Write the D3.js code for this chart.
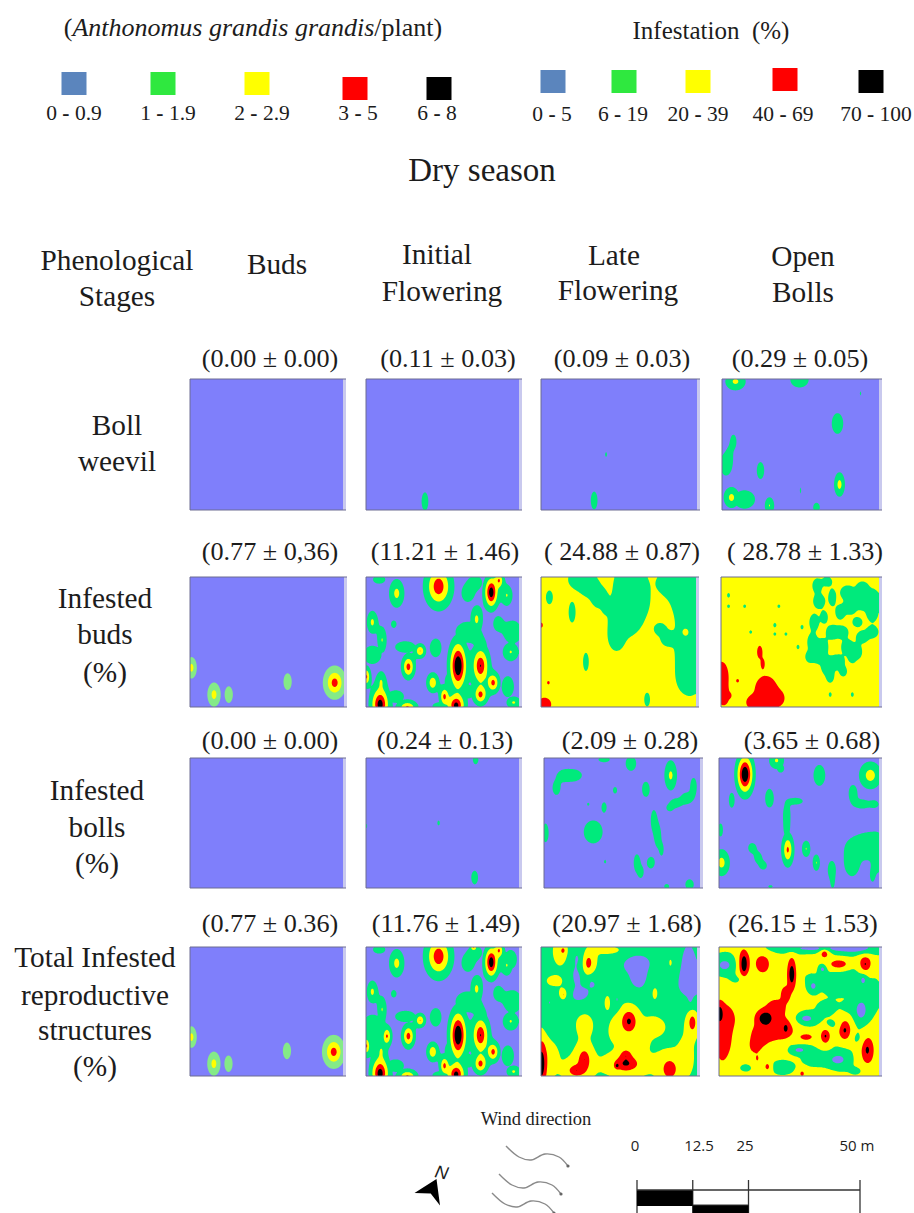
<!DOCTYPE html>
<html lang="en">
<head>
<meta charset="UTF-8">
<title>Dry season infestation maps</title>
<script src="https://d3js.org/d3.v7.min.js"></script>
<style>
  html, body { margin: 0; padding: 0; background: #fff; }
  svg { display: block; }
  text { font-family: "Liberation Serif", serif; fill: #1c1c1c; }
</style>
</head>
<body>
<svg id="chart" width="914" height="1213"></svg>
<script>
// legends
const legendColors = ["#5b85bd", "#2fe83f", "#ffff00", "#ff0000", "#000000"];
const plantLegend = ["0 - 0.9", "1 - 1.9", "2 - 2.9", "3 - 5", "6 - 8"];
const infestLegend = ["0 - 5", "6 - 19", "20 - 39", "40 - 69", "70 - 100"];

// table headings
const statRows = [
  ["(0.00 ± 0.00)", "(0.11 ± 0.03)", "(0.09 ± 0.03)", "(0.29 ± 0.05)"],
  ["(0.77 ± 0,36)", "(11.21 ± 1.46)", "( 24.88 ± 0.87)", "( 28.78 ± 1.33)"],
  ["(0.00 ± 0.00)", "(0.24 ± 0.13)", "(2.09 ± 0.28)", "(3.65 ± 0.68)"],
  ["(0.77 ± 0.36)", "(11.76 ± 1.49)", "(20.97 ± 1.68)", "(26.15 ± 1.53)"]
];

// map colours and contour levels
const mapColors = ["#7f7ffb", "#00ea7c", "#ffff00", "#ff0000", "#000000"];
const mapLevels = [1, 2, 3, 4];

// hot spots, in field units (0-156 across, 0-130 down):
// [x, y, spread x, spread y, height]
const budsBuds = [
  [1,91,4,8,2.5],[24,118,5,9,2.5],[39,118,4,8,1.6],[99,105,4,8,1.6],[147,106,7,10,3.6]
];
const weevilInitial = [[60,122,3,8,1.7]];
const weevilLate = [[65,75,1.2,3,1.4],[53,121,3,8,2.0]];
const weevilOpen = [
  [13,2,8,7,2.3],[77,0,8,7,1.7],[138,14,1,3,1.3],[115,44,5,9,1.7],[11,62,3,7,1.5],[7,78,2.5,8,1.4],
  [3,85,5,10,1.6],[38,91,3.5,8,1.6],[9,118,6,8,2.4],[22,120,8,7,1.9],[78,111,1,4.5,1.3],
  [117,105,4,9,2.5],[47,126,4,7,2.1],[94,128,3.5,5,1.5]
];
const budsInitial = [
  [74,9,9,14,3.9],[128,15,4.5,10,5],[136,3,3.5,6,3.2],[31,16,6,11,2.4],[144,18,5,9,2.1],[13,2,6,4,1.6],
  [112,5,6,6,1.6],[104,16,6,8,1.6],[6,45,4.5,9,2.3],[28,47,3,4,1.5],[113,42,5,11,2.3],[104,55,11,9,1.7],
  [135,46,4,6,1.6],[16,63,4,11,2.1],[6,78,8,8,1.7],[148,75,7,8,2.1],[150,55,8,10,1.7],[55,74,4,5,3.1],
  [40,70,9,5,1.7],[43,90,4.5,8,3.6],[71,71,5,8,1.7],[94,89,5.5,15,5.5],[117,89,6,13,4.1],[130,106,4.5,7,3.5],
  [117,118,5,7,3.5],[68,106,4.5,7,2.9],[14,128,6,11,4.8],[15,105,4.5,9,2.0],[42,131,7,5,3.3],[80,120,3.5,7,3.4],
  [86,105,5,8,1.7],[92,129,6,8,4.6],[0,100,3,7,3.3],[151,126,6,5,2.2],[145,110,6,10,1.6],[118,72,5,8,1.6],
  [30,120,8,6,1.6],[75,130,7,4,1.6],[105,115,6,10,1.3]
];
const budsLate = [
  [38,2,8,7,-1.2],[48,8,7,8,-1.2],[58,20,6,8,-1.1],[65,30,3,5,-.9],[90,5,11,14,-1.3],[92,25,11,12,-1.3],
  [85,42,11,12,-1.3],[76,60,6,10,-1.2],[135,5,12,10,-1.3],[150,20,12,16,-1.4],[152,50,9,14,-1.4],
  [150,75,9,16,-1.4],[150,100,9,13,-1.3],[120,52,5,5,-1],[128,62,6,6,-1],[8,20,3,6,-1],[31,35,3,9,-1],
  [45,85,2.5,8,-1],[107,123,2.5,6,-1],[147,55,3,4,1.1],[3,128,5,5,1.2],[7,106,1.5,2,.8],[0,48,1.5,3,.8]
];
const budsOpen = [
  [95,8,4,6,-1],[105,4,4,4,-1],[97,24,5,6,-1],[110,20,3,7,-1],[92,45,4,7,-1],[102,40,3,5,-1],[90,65,4,7,-1],
  [100,70,5,7,-1],[110,55,5,6,-1],[118,35,4,6,-1],[125,15,6,6,-1],[140,10,5,5,-1],[150,20,6,7,-1],
  [150,35,5,8,-1],[150,55,5,5,-1],[135,45,4,4,-1],[125,70,5,6,-1],[115,85,6,6,-1],[105,90,5,7,-1],
  [108,100,3,5,-1],[130,80,3,5,-1],[121,95,3,4,-1],[88,80,4,5,-1],[96,80,4,5,-1],[120,55,5,5,-1],[128,30,5,6,-1],
  [140,25,6,6,-1],[140,60,5,5,-1],[135,75,4,6,-1],[7,18,1.2,2,-1],[7,29,1.2,1.5,-1],[23,29,1.2,1.5,-1],
  [57,29,1.2,1.5,-1],[53,48,1.3,2,-1],[29,55,1.2,1.5,-1],[53,57,1.2,1.5,-1],[64,57,1.2,1.5,-1],[80,50,1.2,2,-1],
  [76,70,1.2,2,-1],[130,118,1.2,2,-1],[108,118,1.2,2,-1],[33,126,7,6,1],[44,112,9,11,1],[54,122,7,7,1],
  [38,75,2.5,6,.9],[41,87,2,5,.8],[0,100,6,13,1],[2,120,5,8,.9],[16,104,1.5,2,.8],[8,119,1.5,2,.8]
];
const bollsLate = [
  [30,17,7,5,1.6],[20,17,6,5,1.5],[12,30,4,7,1.5],[60,1,6,3,1.5],[87,5,5,7,1.6],[127,17,5,12,2.3],
  [102,31,4,8,1.5],[71,32,2.5,4,1.4],[44,46,1.5,2,1.3],[60,49,2.5,5,1.5],[49,74,9,11,1.6],[1,75,3,9,1.6],
  [61,104,1.5,2.5,1.3],[110,62,3,10,1.5],[114,78,3,10,1.6],[118,92,2,6,1.4],[150,28,3,8,1.6],[143,40,5,5,1.6],
  [132,45,5,4,1.6],[126,50,3,3,1.5],[93,105,3,8,1.6],[97,115,2.5,5,1.5],[107,105,4,6,1.5],[123,129,3,3,1.4],
  [146,127,4,5,1.6]
];
const bollsInitial = [[112,1,3,5,1.5],[0,68,1,3,1.3],[74,65,1.5,3,1.4],[111,120,3,6,1.7]];
const bollsOpen = [
  [25,16,5,12,5.5],[56,2,6,7,2.2],[60,10,5,6,1.3],[98,17,5.5,10,1.6],[148,17,8,10,2.6],[131,35,4,8,1.6],
  [140,46,6,4,1.6],[152,46,4,3.5,1.5],[12,42,3,8,1.5],[49,40,4,9,1.6],[75,43,7,3.5,1.5],[66,55,3,8,1.5],
  [67,92,4,11,3.3],[66,70,3,10,1.5],[85,91,3.5,7,2.1],[95,105,3,7,2.1],[2,105,6,10,2.5],[32,90,4,5,1.5],
  [38,100,3.5,5,1.5],[43,108,3.5,4,1.5],[1,72,2.5,7,1.5],[110,112,3.5,8,1.6],[111,125,2,7,1.3],[130,105,6,11,1.8],
  [136,90,8,7,1.8],[148,84,9,7,1.8],[156,98,5,13,1.8],[145,92,5,5,1.7],[150,118,2.5,7,1.3],[50,129,3,2,1.3]
];
const totalInitialExtra = [[21,90,3.5,7,3.3],[110,0,3,3,3.2],[8,100,6,12,1.6],[148,12,6,9,1.6]];
const totalLate = [
  [37,12,6,15,-1],[36,30,5,8,-.9],[38,48,10,8,-1],[50,35,7,8,-1],[95,15,12,9,-1],[98,30,7,10,-1],
  [148,15,5,14,-1],[150,35,11,16,-1.1],[150,55,5,6,-.8],[76,53,2,5,-.8],[8,56,2,4,-.7],[25,73,1.5,3,-.7],
  [20,4,6,11,1.3],[22,3,2,3,1.7],[47,16,5,10,2.3],[70,3,16,5,.9],[130,16,4,10,.8],[14,34,9,6,.9],[22,46,5,6,1],
  [22,48,2,3,1.7],[114,46,4,9,.8],[66,55,4,10,.8],[43,78,9,14,.9],[88,75,6,9,2.8],[113,80,12,10,.9],
  [76,85,8,12,.9],[152,76,3.5,8,2.3],[150,76,6,16,.8],[0,118,4,18,3.4],[8,110,9,20,.9],[43,114,5,9,2.4],
  [35,125,7,5,2.4],[40,118,14,12,.8],[85,118,10,6,2.5],[85,110,5,6,2.2],[76,120,1.5,2,3],[85,120,20,10,.9],
  [129,124,6,8,2.4],[128,118,15,14,.8],[145,110,8,20,.8],[100,95,8,12,.8],[10,80,8,8,-.6]
];
const totalOpen = [
  [24,17,3,9,3],[42,17,5,7,1.6],[71,27,2.5,9,3],[65,47,4,7,1.3],[45,72,5,5,3.2],[55,62,8,8,1.3],
  [65,82,7,11,1.3],[50,85,10,8,1.3],[40,90,7,9,1.2],[65,82,1.5,3,2.5],[5,80,11,20,1.3],[3,100,5,14,1.1],
  [0,67,2.5,6,3],[35,100,5,7,1.1],[37,113,2,4,.9],[103,5,3.5,4,2],[117,17,6,3,2],[143,17,4,6,2.1],
  [85,91,4,2,1.8],[104,90,3,5,2],[123,84,4,7,2.1],[145,104,4,9,2.1],[47,121,2,3,1.5],[81,128,2,2.5,1.3],
  [5,18,7,6,-1.9],[20,32,10,5,-.8],[100,1,30,3,-1.9],[135,1,15,4,-1.9],[90,25,8,10,-.8],
  [115,35,12,10,-.8],[135,30,12,9,-.8],[148,50,7,12,-.8],[105,62,8,6,-.7],[128,62,8,6,-.7],[141,33,2.5,4,-1.9],
  [101,22,2.5,3,-1.9],[92,39,3,4,-1.9],[139,64,5,9,-2],[85,72,7,4,-1.9],[100,112,12,6,-.8],[120,110,8,10,-.8],
  [78,104,6,3,-1.9],[116,114,6,4,-1.9],[25,122,6,4,-.7],[18,90,3,6,-.7],[62,121,9,6,-.8],[90,20,5,7,.8],
  [110,78,7,4,-.7],[136,92,5,6,-.7],[90,110,6,6,-.7],[135,125,6,4,-.6],[70,100,5,5,-.6]
];

const mapSpots = [
  [[], weevilInitial, weevilLate, weevilOpen],
  [budsBuds, budsInitial, budsLate, budsOpen],
  [[], bollsInitial, bollsLate, bollsOpen],
  [budsBuds, budsInitial.concat(totalInitialExtra), totalLate, totalOpen]
];
// background height, lowest and highest height of each map
const mapBase = [[0, 0, 0, 0], [0, 0, 2.5, 2.5], [0, 0, 0, 0], [0, 0, 1.5, 2.3]];
const mapFloor = [[0, 0, 0, 0], [0, 0, 1.2, 1.2], [0, 0, 0, 0], [0, 0, 0, 0]];
const mapCeil = [[9, 9, 9, 9], [9, 9, 3.9, 3.9], [9, 9, 9, 9], [9, 9, 9, 9]];

// scale bar
const scaleTicks = [0, 12.5, 25, 50];
const windCurve = [[0, 0], [13, 11], [25, 14], [39, 8], [53, 11], [62, 20]];

const svg = d3.select("#chart");

function label(txt, x, y, size, opts = {}) {
  return svg.append("text").attr("x", x).attr("y", y)
    .attr("font-size", size).attr("text-anchor", opts.anchor || "middle")
    .text(txt);
}

// legend labels have a heavy dash
function rangeLabel(d, x, y) {
  const [a, b] = d.split(" - ");
  label("", x, y, 21.5).attr("xml:space", "preserve").call(t => {
    t.append("tspan").text(a + " ");
    t.append("tspan").attr("font-weight", "bold").text("-");
    t.append("tspan").text(" " + b);
  });
}

// ---- legends
label("", 253, 36, 26).call(t => {
  t.append("tspan").text("(");
  t.append("tspan").attr("font-style", "italic").text("Anthonomus grandis grandis");
  t.append("tspan").text("/plant)");
});
label("Infestation  (%)", 711, 39, 25).attr("xml:space", "preserve");

const plantX = d3.scaleOrdinal().domain(plantLegend).range([74, 163, 257, 355, 439]);
const plantLab = d3.scaleOrdinal().domain(plantLegend).range([74, 168, 262, 358, 437]);
const plantTop = [72, 72, 72, 77, 77];
plantLegend.forEach((d, i) => {
  svg.append("rect").attr("x", plantX(d) - 12.5).attr("y", plantTop[i])
    .attr("width", 25).attr("height", 23).attr("fill", legendColors[i]);
  rangeLabel(d, plantLab(d), 120);
});
const infestX = d3.scaleOrdinal().domain(infestLegend).range([553, 624, 698, 785, 871]);
const infestLab = d3.scaleOrdinal().domain(infestLegend).range([552, 623, 698, 783, 876]);
const infestTop = [70, 70, 70, 68, 70];
infestLegend.forEach((d, i) => {
  svg.append("rect").attr("x", infestX(d) - 12.5).attr("y", infestTop[i])
    .attr("width", 25).attr("height", 23).attr("fill", legendColors[i]);
  rangeLabel(d, infestLab(d), 121);
});

label("Dry season", 482, 181, 33);

// ---- headings
[["Phenological", 117, 270], ["Stages", 117, 306], ["Buds", 277, 274], ["Initial", 437, 264],
 ["Flowering", 442, 301], ["Late", 614, 265], ["Flowering", 618, 300], ["Open", 803, 266], ["Bolls", 803, 302],
 ["Boll", 117, 435], ["weevil", 117, 471], ["Infested", 105, 608], ["buds", 105, 644], ["(%)", 105, 682],
 ["Infested", 97, 800], ["bolls", 97, 837], ["(%)", 97, 873], ["Total Infested", 95, 967],
 ["reproductive", 95, 1005], ["structures", 95, 1040], ["(%)", 95, 1076]
].forEach(d => label(d[0], d[1], d[2], 29.3));

const statY = [367, 560, 749, 932];
const statX = [[270, 448, 622, 800], [270, 445, 622, 805], [270, 445, 630, 812], [270, 446, 627, 803]];
statRows.forEach((row, r) => row.forEach((s, c) => label(s, statX[r][c], statY[r], 26.2).attr("xml:space", "preserve")));

// ---- maps
const gridW = 157, gridH = 131;
const colBox = [
  [[190, 346], [366, 522], [541, 700], [722, 882]],
  [[190, 347], [366, 522], [541, 699], [721, 882]],
  [[190, 346], [366, 522], [544, 703], [719, 882]],
  [[190, 346], [366, 522], [541, 700], [719, 882]]
];
const rowBox = [[379, 510], [577, 707], [758, 888], [947, 1076]];
const contours = d3.contours().size([gridW, gridH]).thresholds(mapLevels).smooth(true);

// overlapping spots join softly; green-only spots never add up to yellow
function heightField(spots, base, floor, ceil) {
  const out = new Float64Array(gridW * gridH);
  for (let j = 0; j < gridH; j++) {
    for (let i = 0; i < gridW; i++) {
      let up = 0, down = 0, green = 0;
      for (const s of spots) {
        const low = base === 0 && s[4] < 2;
        const k = low ? 1.8 : base === 0 ? 1.45 : 1.5;
        const dx = (i - s[0]) / (s[2] * k), dy = (j - s[1]) / (s[3] * k);
        const q = dx * dx + dy * dy;
        if (q > 30) continue;
        const w = Math.pow(Math.abs(s[4]) * Math.exp(-Math.pow(q, 0.7)), 2);
        if (low) green += w;
        else if (s[4] > 0) up += w;
        else down += w;
      }
      const top = Math.max(Math.min(Math.sqrt(green), 1.95), Math.sqrt(up));
      out[j * gridW + i] = Math.min(Math.max(base + top - Math.sqrt(down), floor), ceil);
    }
  }
  return out;
}

mapSpots.forEach((row, r) => row.forEach((spots, c) => {
  const [x0, x1] = colBox[r][c], [y0, y1] = rowBox[r];
  const px = d3.scaleLinear().domain([0, gridW]).range([x0, x1 - 3]);
  const py = d3.scaleLinear().domain([0, gridH]).range([y0, y1]);
  const path = d3.geoPath(d3.geoTransform({
    point(x, y) { this.stream.point(px(x), py(y)); }
  }));
  const colors = c === 0 ? ["#7f7ffb", "#84ea88", "#ffff00", "#ff0000", "#000000"] : mapColors;
  const g = svg.append("g").style("filter", "blur(0.5px)");
  g.append("rect").attr("x", x0).attr("y", y0).attr("width", x1 - x0).attr("height", y1 - y0).attr("fill", "#c9c9ee");
  g.append("rect").attr("x", x0).attr("y", y0).attr("width", x1 - x0 - 3).attr("height", y1 - y0).attr("fill", colors[0]);
  g.selectAll("path.level")
    .data(contours(heightField(spots, mapBase[r][c], mapFloor[r][c], mapCeil[r][c])))
    .join("path").attr("class", "level")
    .attr("d", path)
    .attr("fill", (d, i) => colors[i + 1]);
  g.append("path")
    .attr("d", `M${x1},${y0}H${x0}V${y1}H${x1}`)
    .attr("fill", "none").attr("stroke", "#6c6c92").attr("stroke-width", 1);
}));

// ---- wind, north arrow, scale bar
label("Wind direction", 536, 1125, 18.5).attr("xml:space", "preserve");
const windLine = d3.line().curve(d3.curveCatmullRom);
[[506, 1146], [499, 1174], [492, 1193]].forEach(o => {
  const g = svg.append("g").attr("transform", `translate(${o[0]},${o[1]})`);
  g.append("path").attr("d", windLine(windCurve)).attr("fill", "none")
    .attr("stroke", "#8a8a8a").attr("stroke-width", 1.4);
  g.append("circle").attr("cx", 62).attr("cy", 20).attr("r", 1.6).attr("fill", "#666");
});

svg.append("path").attr("d", "M414.5,1193L436.5,1179L440,1205.5L430.7,1193.5Z").attr("fill", "#000");
svg.append("text").attr("transform", "translate(434,1177) rotate(12)")
  .attr("font-size", 18).attr("font-style", "italic").style("font-family", "'Liberation Sans'").text("N");

const bar = d3.scaleLinear().domain([0, 50]).range([637, 860]);
const barLabels = ["0", "12.5", "25", "50 m"];
const barLabelX = [635, 699, 745, 857];
scaleTicks.forEach((d, i) => {
  svg.append("text").attr("x", barLabelX[i]).attr("y", 1151).attr("text-anchor", "middle")
    .attr("font-size", 15).style("font-family", "'Open Sans'").text(barLabels[i]);
  svg.append("line").attr("x1", bar(d)).attr("x2", bar(d)).attr("y1", 1180).attr("y2", 1213)
    .attr("stroke", "#333").attr("stroke-width", 1.3);
});
svg.append("rect").attr("x", bar(0)).attr("y", 1190).attr("width", bar(12.5) - bar(0)).attr("height", 16).attr("fill", "#000");
svg.append("rect").attr("x", bar(12.5)).attr("y", 1205).attr("width", bar(25) - bar(12.5)).attr("height", 8).attr("fill", "#000");
svg.append("line").attr("x1", bar(0)).attr("x2", bar(50)).attr("y1", 1190).attr("y2", 1190).attr("stroke", "#333").attr("stroke-width", 1.3);
svg.append("line").attr("x1", bar(12.5)).attr("x2", bar(25)).attr("y1", 1205).attr("y2", 1205).attr("stroke", "#333").attr("stroke-width", 1);
</script>
</body>
</html>
